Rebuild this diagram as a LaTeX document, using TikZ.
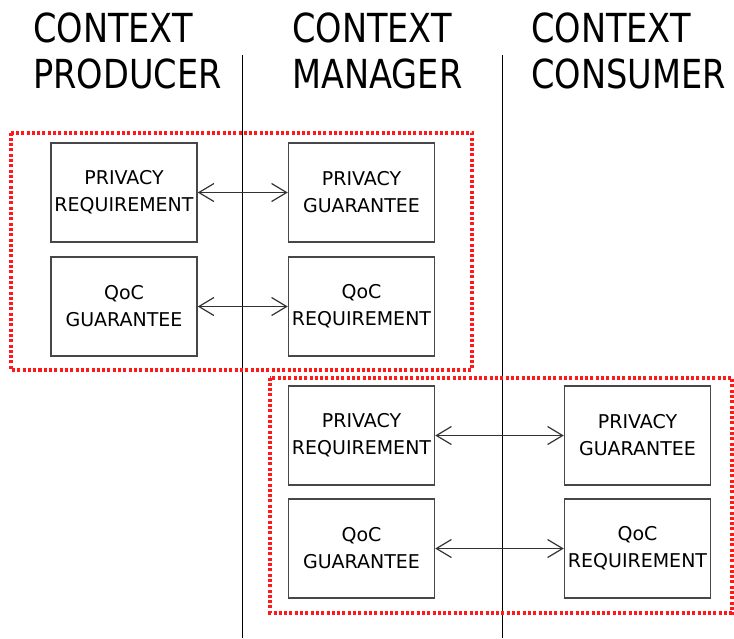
\documentclass[tikz,border=0pt]{standalone}
\usepackage{fontspec}
\setmainfont{DejaVu Sans}
\newfontfamily\headfont[FakeStretch=0.84]{DejaVu Sans}
\usetikzlibrary{arrows.meta}

\begin{document}
\begin{tikzpicture}[x=1pt,y=-1pt,
  box/.style={draw=black!72, line width=1.5pt, minimum width=146pt,
    minimum height=99pt, inner sep=0pt, align=center,
    font=\fontsize{19}{27}\selectfont},
  head/.style={anchor=north west, inner sep=0pt, align=left,
    font=\headfont\fontsize{40}{46}\selectfont},
  link/.style={draw=black!80, line width=1.2pt,
    {Straight Barb[length=15pt,width=18pt]}-{Straight Barb[length=15pt,width=18pt]}},
  zone/.style={draw=red!90!white, line width=4pt, dash pattern=on 3pt off 2.3pt}]
  \useasboundingbox (0,0) rectangle (734,638);
  % column titles
  \node[head] (producer) at (33,13) {CONTEXT\\PRODUCER};
  \node[head] (manager) at (292,13) {CONTEXT\\MANAGER};
  \node[head] (consumer) at (531,13) {CONTEXT\\CONSUMER};
  % column separators
  \coordinate (sepa top) at (242,55);
  \coordinate (sepa bot) at (242,638);
  \coordinate (sepb top) at (502,55);
  \coordinate (sepb bot) at (502,638);
  \draw[line width=1pt] (sepa top) -- (sepa bot);
  \draw[line width=1pt] (sepb top) -- (sepb bot);
  % negotiation zones
  \draw[zone] (10.5,132.5) rectangle (472,369.5);
  \draw[zone] (270,377.5) rectangle (732,612.5);
  % producer side
  \node[box] (prod priv) at (124,192.5) {PRIVACY\\REQUIREMENT};
  \node[box] (prod qoc) at (124,306.5) {QoC\\GUARANTEE};
  % manager side
  \node[box] (man priv a) at (361.5,192.5) {PRIVACY\\GUARANTEE};
  \node[box] (man qoc a) at (361.5,306.5) {QoC\\REQUIREMENT};
  \node[box] (man priv b) at (361.5,435.5) {PRIVACY\\REQUIREMENT};
  \node[box] (man qoc b) at (361.5,548.5) {QoC\\GUARANTEE};
  % consumer side
  \node[box] (cons priv) at (637.5,435.5) {PRIVACY\\GUARANTEE};
  \node[box] (cons qoc) at (637.5,548.5) {QoC\\REQUIREMENT};
  % agreements
  \draw[link] (prod priv) -- (man priv a);
  \draw[link] (prod qoc) -- (man qoc a);
  \draw[link] (man priv b) -- (cons priv);
  \draw[link] (man qoc b) -- (cons qoc);
\end{tikzpicture}
\end{document}
